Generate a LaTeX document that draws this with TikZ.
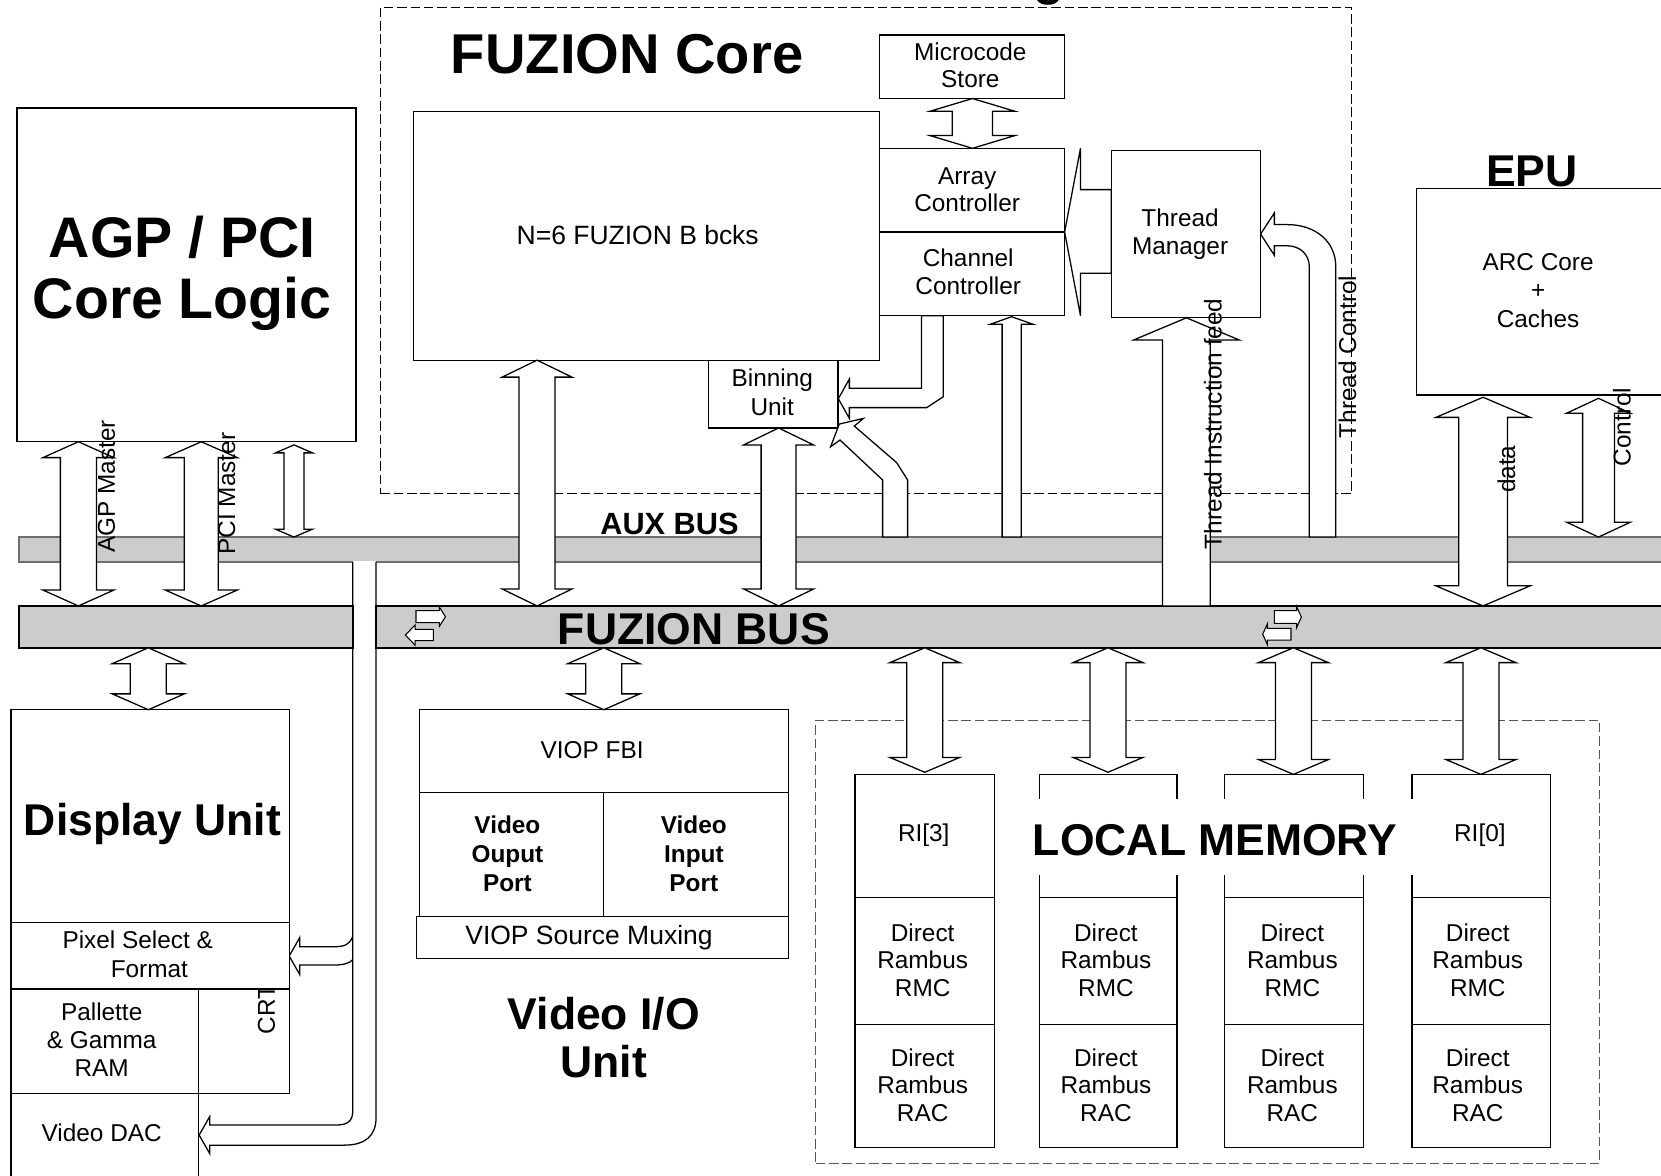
\documentclass[tikz,border=0pt]{standalone}
\usepackage{fontspec}
\setmainfont{Liberation Sans}
\usetikzlibrary{fit}
\definecolor{busgray}{HTML}{CCCCCC}
\definecolor{auxline}{HTML}{6E6E6E}
\definecolor{dashgray}{HTML}{555555}
% vertical double block arrow: cx, ytop, ybottom, shaft half width, head half width, head length
\newcommand{\fzdbl}[6]{\draw[blk] (#1,#2) -- ({#1+#5},{#2+#6}) -- ({#1+#4},{#2+#6}) -- ({#1+#4},{#3-#6}) -- ({#1+#5},{#3-#6}) -- (#1,#3) -- ({#1-#5},{#3-#6}) -- ({#1-#4},{#3-#6}) -- ({#1-#4},{#2+#6}) -- ({#1-#5},{#2+#6}) -- cycle;}
% vertical single block arrow pointing up: cx, ytip, ybottom, shaft half width, head half width, head length
\newcommand{\fzup}[6]{\draw[blk] (#1,#2) -- ({#1+#5},{#2+#6}) -- ({#1+#4},{#2+#6}) -- ({#1+#4},#3) -- ({#1-#4},#3) -- ({#1-#4},{#2+#6}) -- ({#1-#5},{#2+#6}) -- cycle;}
\begin{document}
\begin{tikzpicture}[x=0.5pt,y=-0.5pt,
  box/.style={draw=black,line width=0.6pt,fill=white,inner sep=0pt,outer sep=0pt},
  blk/.style={draw=black,line width=0.6pt,fill=white,line join=miter},
  ln/.style={draw=black,line width=0.6pt},
  dbox/.style={draw=black,line width=0.5pt,dash pattern=on 4.5pt off 1.8pt,inner sep=0pt},
  mbox/.style={draw=dashgray,line width=0.5pt,dash pattern=on 4.5pt off 1.8pt,inner sep=0pt},
  auxb/.style={draw=auxline,line width=0.7pt,fill=busgray,inner sep=0pt},
  fzb/.style={draw=black,line width=1pt,fill=busgray,inner sep=0pt},
  t/.style={font=\fontsize{11.5}{13}\selectfont,align=center,inner sep=0pt},
  tb/.style={font=\bfseries\fontsize{11.5}{13.5}\selectfont,align=center,inner sep=0pt},
  lbl/.style={font=\fontsize{11.5}{13}\selectfont,inner sep=0pt},
  hbig/.style={font=\bfseries\fontsize{21}{22.5}\selectfont,align=center,inner sep=0pt}
]
\useasboundingbox (0,0) rectangle (1568,1110);

% cut-off title fragment
\node[font=\bfseries\fontsize{24}{24}\selectfont,anchor=base,inner sep=0pt] (gfrag) at (990,-5) {g};

% FUZION core dashed frame
\node[dbox,fit={(359,7) (1276,466)}] (corebox) {};

% buses
\node[auxb,fit={(18,507) (1600,530.5)}] (auxbus) {};
\node[fzb,fit={(18,572) (333,611.5)}] (fbusL) {};
\node[fzb,fit={(355,572) (1600,611.5)}] (fbusR) {};
\node[font=\bfseries\fontsize{14.5}{15}\selectfont,inner sep=0pt] (auxt) at (632,495) {AUX BUS};
\node[font=\bfseries\fontsize{21}{22}\selectfont,inner sep=0pt] (fbust) at (655,594) {FUZION BUS};

% swap icons on the FUZION bus
\draw[blk,line width=0.5pt] (392.7,576.5) -- (414.7,576.5) -- (414.7,573) -- (420.5,582.2) -- (414.7,591.4) -- (414.7,587.8) -- (392.7,587.8) -- cycle;
\draw[blk,line width=0.5pt] (409.1,594.1) -- (391.8,594.1) -- (391.8,590) -- (382.7,599.5) -- (391.8,609) -- (391.8,604.8) -- (409.1,604.8) -- cycle;
\draw[blk,line width=0.5pt] (1203,576.5) -- (1224,576.5) -- (1224,572.5) -- (1228.5,582.5) -- (1224,592.5) -- (1224,588.5) -- (1203,588.5) -- cycle;
\draw[blk,line width=0.5pt] (1218.7,593.2) -- (1196.4,593.2) -- (1196.4,589) -- (1192,598.7) -- (1196.4,608.5) -- (1196.4,604.2) -- (1218.7,604.2) -- cycle;

% pipe from AUX bus to the display unit
\fill[white] (333.5,529.9) rectangle (354.5,545);
\draw[ln] (333,530.5) -- (333,1049) .. controls (333,1058) and (328,1062) .. (318,1062) -- (198,1062) -- (198,1054) -- (188,1071.5) -- (198,1089) -- (198,1081) -- (325,1081) .. controls (345,1081) and (355,1072) .. (355,1055) -- (355,530.5);
\draw[ln] (333,884) .. controls (330,892) and (325,893.7) .. (315,893.7) -- (283,893.7) -- (283,885) -- (273,902.5) -- (283,920) -- (283,911) -- (315,911) .. controls (325,911) and (330,909) .. (333,906);

% AGP / PCI core logic
\node[box,fit={(16,102) (336,417)}] (agp) {};
\node[font=\bfseries\fontsize{27}{28.5}\selectfont,align=center,inner sep=0pt] (agpt) at (172,258) {AGP / PCI\\Core Logic};

% FUZION core blocks
\node[font=\bfseries\fontsize{26.5}{28}\selectfont,inner sep=0pt] (coret) at (592,51) {FUZION Core};
\node[box,fit={(390,105) (830,340)}] (blocks) {};
\node[font=\fontsize{12.5}{14}\selectfont,inner sep=0pt] (blockst) at (602,222) {N=6 FUZION B bcks};
\node[box,fit={(830,33) (1005,93)}] (micro) {};
\node[t] (microt) at (916,61.5) {Microcode\\Store};
\node[box,fit={(830,140) (1005,219)}] (array) {};
\node[t] (arrayt) at (913,179) {Array\\Controller};
\node[box,fit={(830,219) (1005,298)}] (chan) {};
\node[t] (chant) at (914,256.5) {Channel\\Controller};
\node[box,fit={(669,340) (791,404)}] (binning) {};
\node[t,font=\fontsize{11.5}{13.5}\selectfont] (binningt) at (729,370.5) {Binning\\Unit};
\node[box,fit={(1049,142) (1190,300)}] (tman) {};
\node[t] (tmant) at (1114,221) {Thread\\Manager};

% EPU
\node[font=\bfseries\fontsize{21}{22}\selectfont,inner sep=0pt] (eput) at (1446,162) {EPU};
\node[box,fit={(1337,178) (1600,373)}] (epu) {};
\node[t,font=\fontsize{11.5}{13.4}\selectfont] (arct) at (1452,274) {ARC Core\\+\\Caches};

% display unit
\node[box,fit={(10.4,670) (273.2,871)}] (disp) {};
\node[font=\bfseries\fontsize{21}{22}\selectfont,inner sep=0pt] (dispt) at (144,778) {Display Unit};
\node[box,fit={(10.4,933.6) (187.2,1032)}] (pal) {};
\node[t,font=\fontsize{11.5}{13.3}\selectfont] (palt) at (96,981.5) {Pallette\\\& Gamma\\RAM};
\node[box,fit={(187.2,933.6) (273.2,1032)}] (crtcbox) {};
\node[lbl,rotate=90,anchor=west] (crtc) at (251.5,977) {CRTC};
\node[box,fit={(10.4,871) (273.2,933.6)}] (pix) {};
\node[t] (pixa) at (130,887) {Pixel Select \&};
\node[t] (pixb) at (141,915) {Format};
\node[box,fit={(10.4,1032) (187.2,1130)}] (dac) {};
\node[t] (dact) at (96,1069) {Video DAC};

% video I/O unit
\node[box,fit={(396,670) (744,748)}] (fbi) {};
\node[t] (fbit) at (559,708) {VIOP FBI};
\node[box,fit={(396,748) (570,865)}] (vout) {};
\node[tb] (voutt) at (479,806) {Video\\Ouput\\Port};
\node[box,fit={(570,748) (744,865)}] (vin) {};
\node[tb] (vint) at (655,806) {Video\\Input\\Port};
\node[box,fit={(393,865) (744,905)}] (mux) {};
\node[t,font=\fontsize{12.5}{14}\selectfont] (muxt) at (556,885) {VIOP Source Muxing};
\node[hbig] (viot) at (570,979.5) {Video I/O\\Unit};

% local memory
\node[mbox,fit={(770,680) (1510,1098)}] (lmem) {};
\foreach \n/\xa/\xb/\xc in {a/807/939/871, b/981/1111/1044, c/1156/1287/1220, d/1333/1464/1395} {
  \node[box,fit={(\xa,731) (\xb,847)}] (ri\n) {};
  \node[box,fit={(\xa,847) (\xb,967)}] (rmc\n) {};
  \node[box,fit={(\xa,967) (\xb,1083)}] (rac\n) {};
  \node[t,font=\fontsize{11.5}{12.8}\selectfont] (rmct\n) at (\xc,906.5) {Direct\\Rambus\\RMC};
  \node[t,font=\fontsize{11.5}{12.8}\selectfont] (ract\n) at (\xc,1024.5) {Direct\\Rambus\\RAC};
}
\node[t] (ri3) at (872,788) {RI[3]};
\node[t] (ri0) at (1397,788) {RI[0]};
\fill[white] (944,754) rectangle (1334.5,826);
\node[font=\bfseries\fontsize{21}{22}\selectfont,inner sep=0pt] (lmemt) at (1147,793) {LOCAL MEMORY};

% block arrows
\fzdbl{918}{93}{140}{19}{40}{12}
\fzdbl{507}{340}{572}{17}{33}{16}
\fzdbl{735}{404}{572}{16.5}{33}{16}
\fzdbl{74}{417}{572}{17}{33.5}{15}
\fzdbl{190}{417}{572}{16}{34}{15}
\fzdbl{277.5}{420}{507}{9.5}{17.5}{7.5}
\fzdbl{1400}{375}{572}{23}{44.5}{19}
\fzdbl{1509}{376}{507}{15}{30}{14}
\fzdbl{140}{611.5}{670}{17}{34}{15}
\fzdbl{570}{611.5}{670}{17}{34}{15}
\fzdbl{873}{611.5}{729}{17}{33}{14}
\fzdbl{1046}{611.5}{729}{17}{33}{14}
\fzdbl{1221}{611.5}{731}{17}{33}{14}
\fzdbl{1398}{611.5}{731}{17}{33}{14}
\fzup{955}{299}{507}{9}{20}{7}
\fzup{1120}{300}{572}{22.5}{50}{21}

% thread manager -> controllers
\draw[blk] (1049,179) -- (1020,179) -- (1020,140) -- (1005,219) -- (1020,298) -- (1020,258) -- (1049,258) -- cycle;
% channel controller -> binning unit
\draw[blk] (870,298) -- (870,366.6) -- (801.8,366.6) -- (801.8,357.8) -- (791.4,376.4) -- (801.8,395) -- (801.8,384.8) -- (874.8,384.8) -- (890.5,374.5) -- (890.5,298) -- cycle;
% AUX bus -> binning unit
\draw[blk] (833.2,507) -- (833.2,453.1) -- (793,415.4) -- (784.1,421.7) -- (792.3,400.3) -- (815,395) -- (806.5,402.2) -- (846.5,436.8) -- (856.8,453.1) -- (856.8,507) -- cycle;
% thread control
\draw[blk] (1236,507) -- (1236,252) .. controls (1236,240) and (1227,232) .. (1215,232) -- (1203,232) -- (1203,241) -- (1190,221) -- (1203,201) -- (1203,212) -- (1215,212) .. controls (1242,212) and (1261,228) .. (1261,252) -- (1261,507) -- cycle;

% rotated labels
\node[lbl,rotate=90] (agpl) at (100.5,459) {AGP Master};
\node[lbl,rotate=90] (pcil) at (214,466) {PCI Master};
\node[lbl,rotate=90] (tifl) at (1145,400) {Thread Instruction feed};
\node[lbl,rotate=90] (tcl) at (1272,337) {Thread Control};
\node[lbl,rotate=90] (datal) at (1422,443) {data};
\node[lbl,rotate=90] (ctll) at (1531,403) {Control};
\end{tikzpicture}
\end{document}
